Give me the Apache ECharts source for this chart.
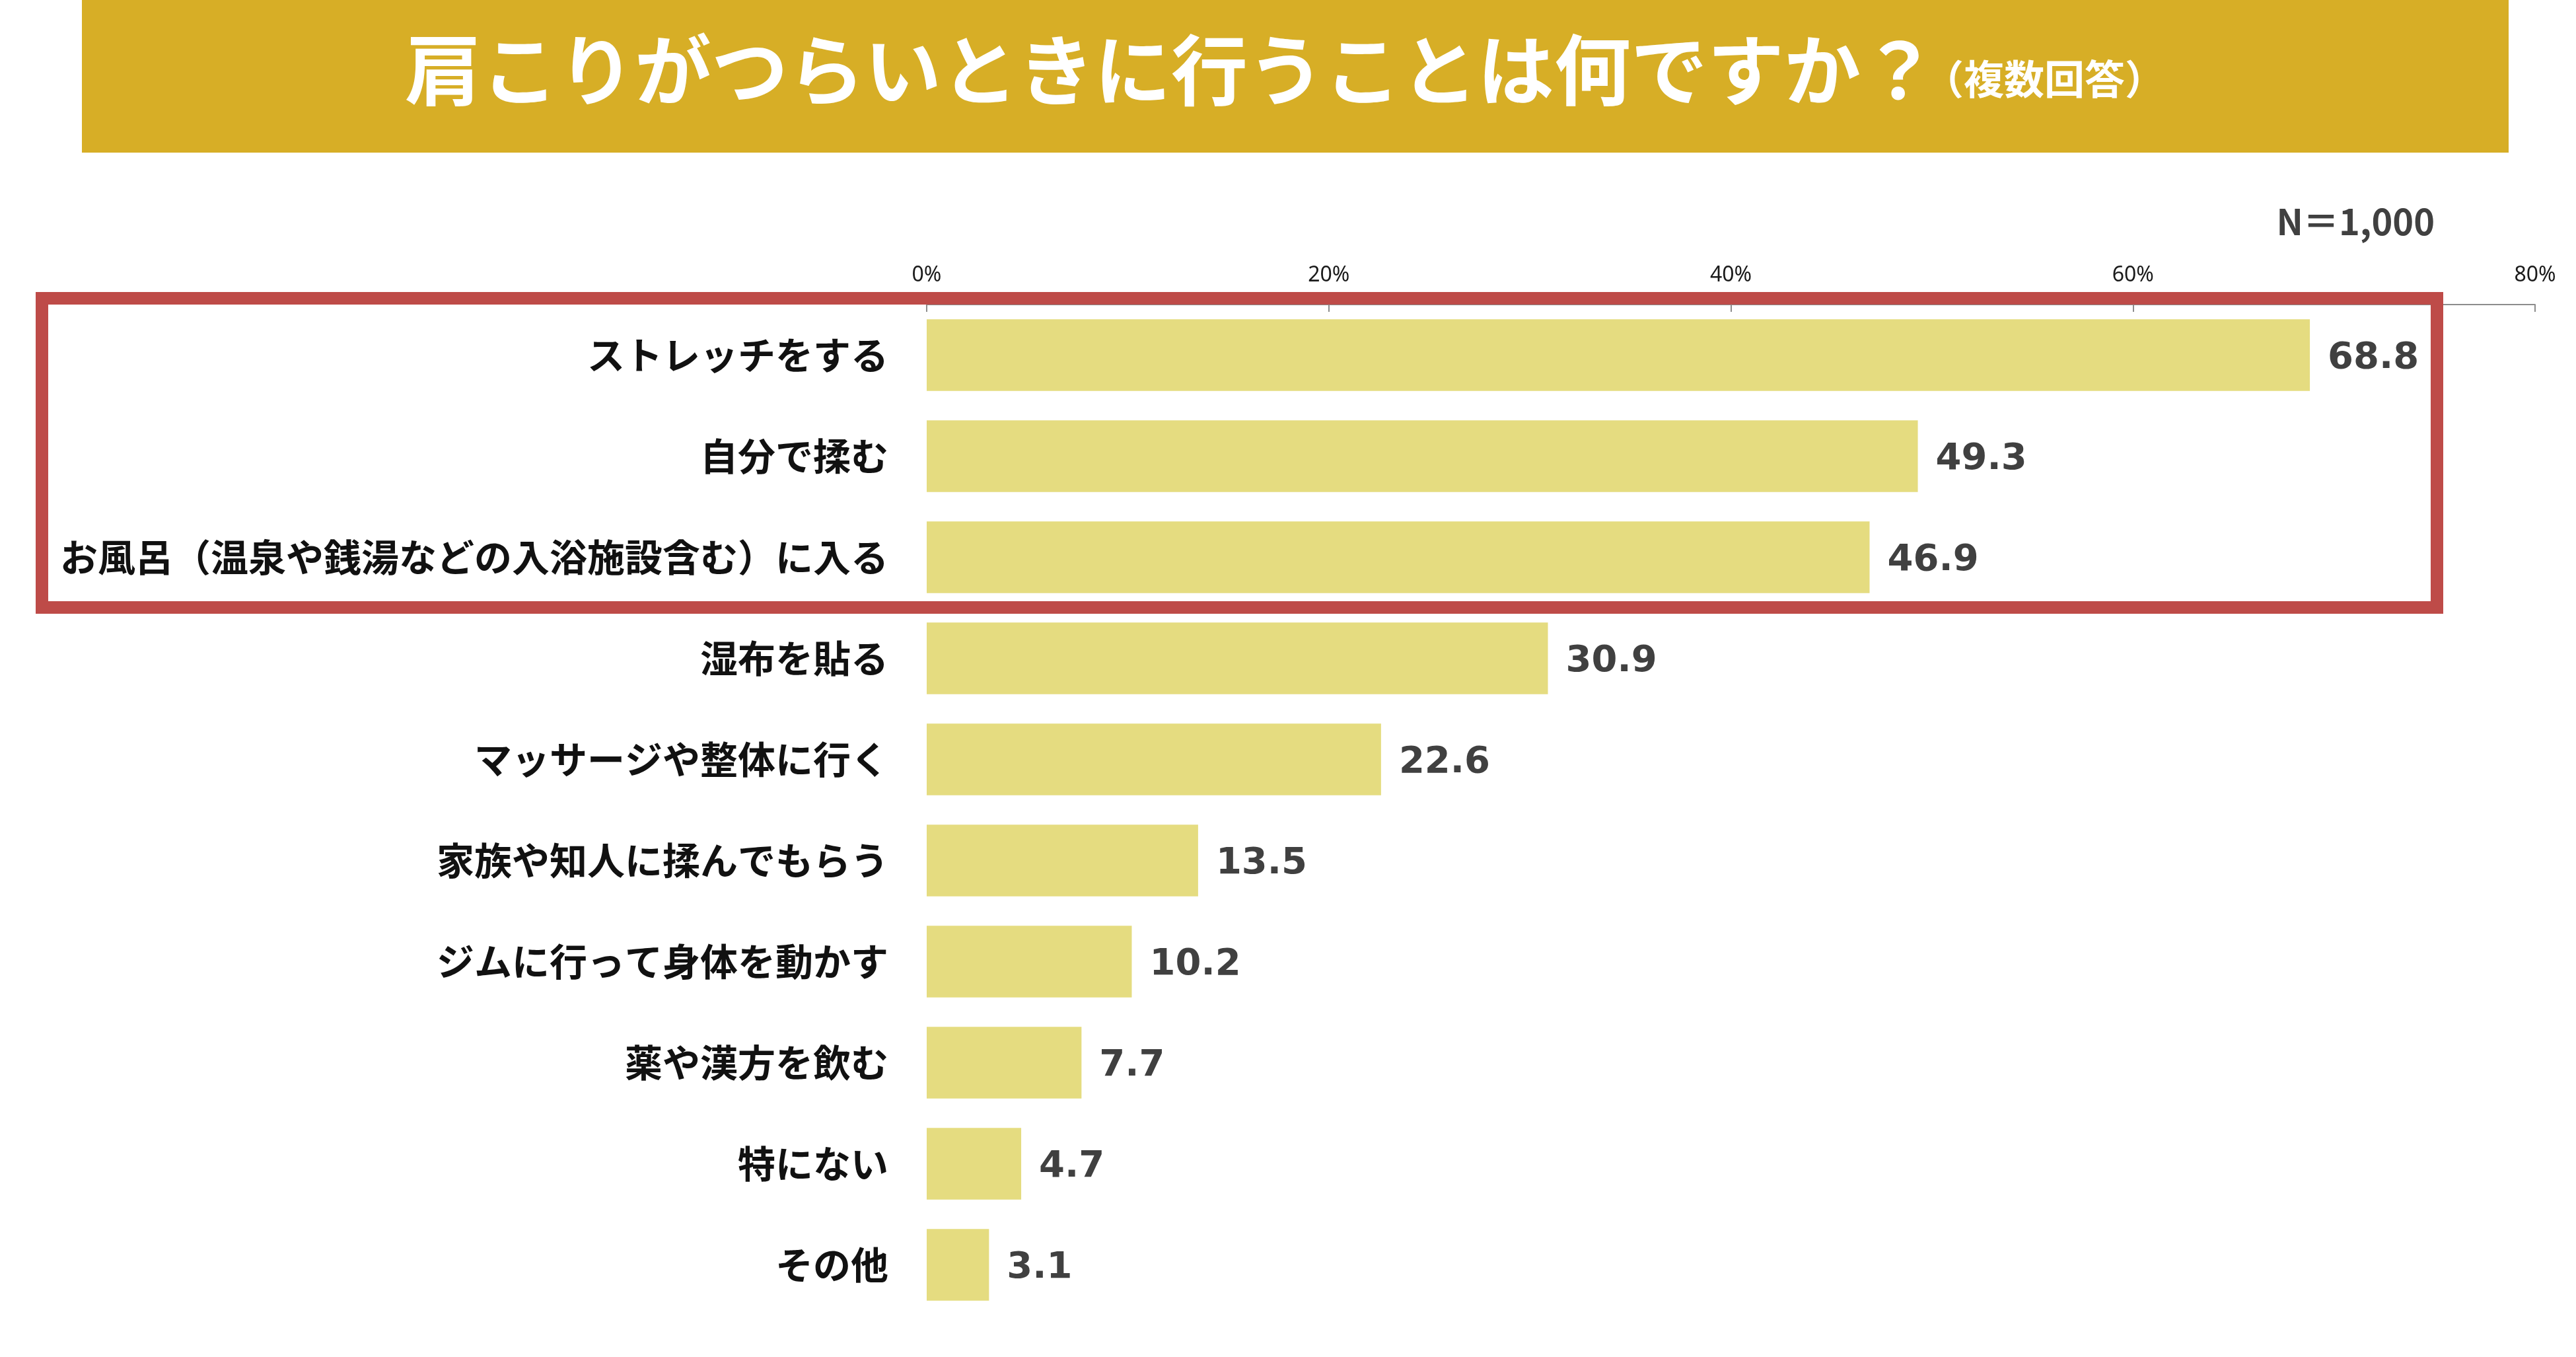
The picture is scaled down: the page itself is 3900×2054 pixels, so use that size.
<!DOCTYPE html>
<html lang="ja">
<head>
    <meta charset="utf-8" />
    <title>肩こりがつらいときに行うことは何ですか？</title>
    <script src="https://cdn.jsdelivr.net/npm/echarts@6/dist/echarts.min.js"></script>
    <style>
        html, body { margin: 0; padding: 0; background: #fff; }
        #chart { width: 3900px; height: 2054px; }
    </style>
</head>
<body>
    <div id="chart"></div>
    <script>
        // 回答項目（上から順）
        var categories = [
            'ストレッチをする',
            '自分で揉む',
            'お風呂（温泉や銭湯などの入浴施設含む）に入る',
            '湿布を貼る',
            'マッサージや整体に行く',
            '家族や知人に揉んでもらう',
            'ジムに行って身体を動かす',
            '薬や漢方を飲む',
            '特にない',
            'その他'
        ];
        // 回答率（%）
        var values = [68.8, 49.3, 46.9, 30.9, 22.6, 13.5, 10.2, 7.7, 4.7, 3.1];
        // 軸目盛
        var axisMin = 0, axisMax = 80, axisStep = 20;

        var jp = '"Noto Sans CJK JP", "Noto Sans", sans-serif';

        var myChart = echarts.init(document.getElementById('chart'));
        var option = {
            backgroundColor: '#ffffff',
            animation: false,
            grid: { left: 1403, right: 62, top: 461, height: 1530 },
            xAxis: {
                type: 'value',
                position: 'top',
                min: axisMin,
                max: axisMax,
                interval: axisStep,
                axisLine: { show: true, lineStyle: { color: '#8c8c8c', width: 2 } },
                axisTick: { show: true, inside: true, length: 11, lineStyle: { color: '#8c8c8c', width: 2 } },
                splitLine: { show: false },
                axisLabel: {
                    formatter: '{value}%',
                    fontSize: 32,
                    margin: 28,
                    color: '#1a1a1a',
                    fontFamily: '"Noto Sans", sans-serif'
                }
            },
            yAxis: {
                type: 'category',
                inverse: true,
                data: categories,
                axisLine: { show: false },
                axisTick: { show: false },
                axisLabel: {
                    fontSize: 57,
                    fontWeight: 'bold',
                    color: '#111111',
                    margin: 58,
                    fontFamily: jp
                }
            },
            series: [{
                type: 'bar',
                data: values,
                barCategoryGap: '29%',
                itemStyle: { color: '#e5dc80' },
                label: {
                    show: true,
                    position: 'right',
                    distance: 27,
                    offset: [0, 5],
                    fontSize: 56,
                    fontWeight: 'bold',
                    color: '#404040',
                    fontFamily: '"DejaVu Sans", sans-serif',
                    formatter: function (p) { return p.value.toFixed(1); }
                }
            }],
            graphic: [
                // タイトル帯
                { type: 'rect', shape: { x: 124, y: 0, width: 3674, height: 231 }, style: { fill: '#d7ae26' }, z: 1 },
                {
                    type: 'text', x: 613, y: 106, z: 2,
                    style: {
                        text: '肩こりがつらいときに行うことは何ですか？',
                        fill: '#ffffff', fontSize: 116, fontWeight: 'bold', fontFamily: jp,
                        textAlign: 'left', textVerticalAlign: 'middle'
                    }
                },
                {
                    type: 'text', x: 2912, y: 120, z: 2,
                    style: {
                        text: '（複数回答）',
                        fill: '#ffffff', fontSize: 61, fontWeight: 'bold', fontFamily: jp,
                        textAlign: 'left', textVerticalAlign: 'middle'
                    }
                },
                {
                    type: 'text', x: 3686, y: 335, z: 2,
                    style: {
                        text: 'N＝1,000',
                        fill: '#404040', fontSize: 54, fontWeight: 'bold', fontFamily: jp,
                        textAlign: 'right', textVerticalAlign: 'middle'
                    }
                },
                // 上位3項目の強調枠
                {
                    type: 'rect', z: 100,
                    shape: { x: 63.5, y: 451.5, width: 3626, height: 468 },
                    style: { fill: 'none', stroke: '#be4b48', lineWidth: 19 }
                }
            ]
        };
        myChart.setOption(option);
    </script>
</body>
</html>
